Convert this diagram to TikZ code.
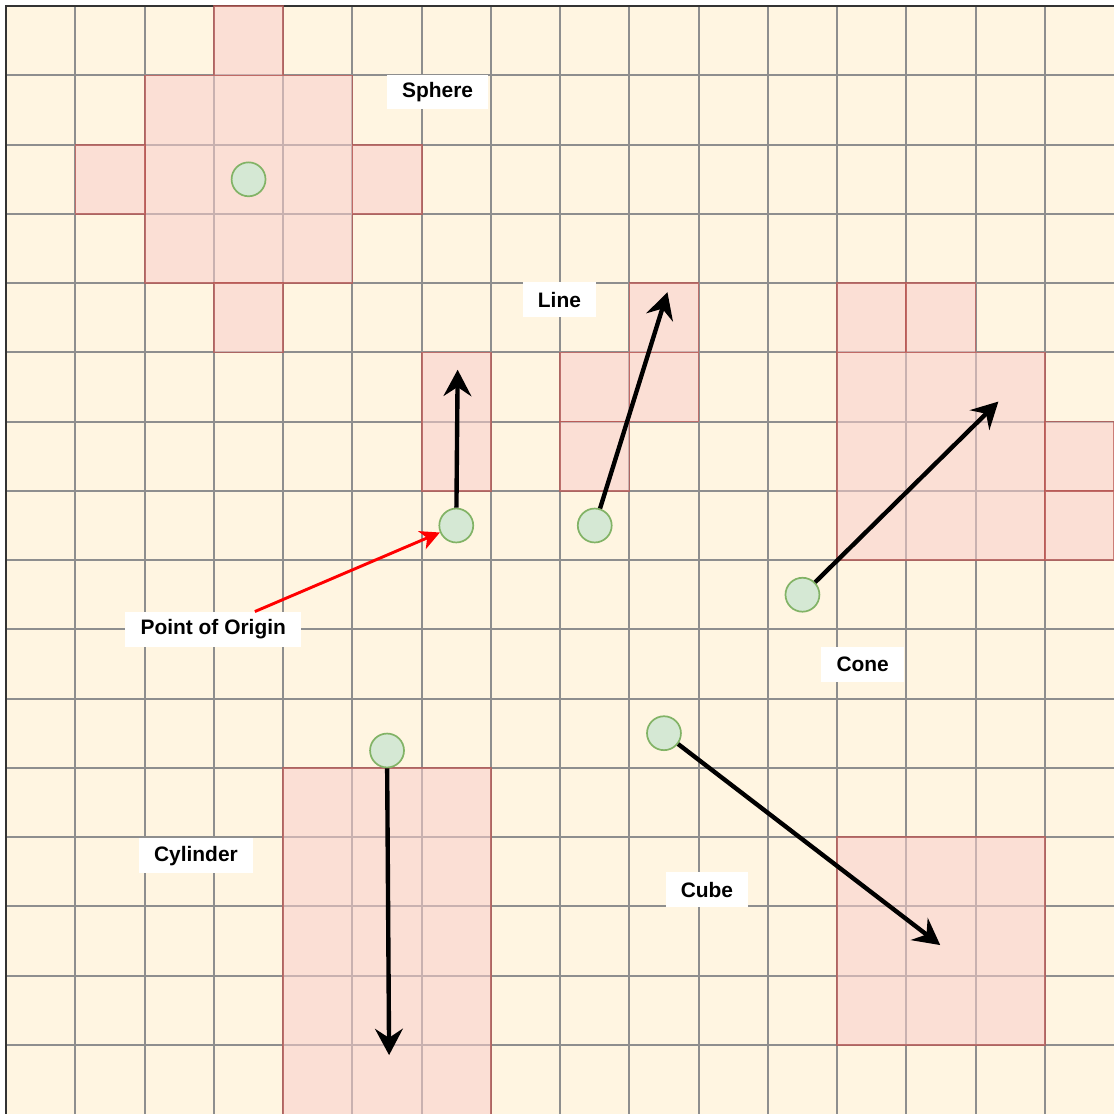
\documentclass[tikz,border=0pt]{standalone}
\usepackage{fontspec}
\setmainfont{Liberation Sans}
\usetikzlibrary{arrows.meta}
\definecolor{cream}{HTML}{FFF5E1}
\definecolor{gridgray}{HTML}{8E8E8E}
\definecolor{cellfill}{HTML}{F8CECC}
\definecolor{celldraw}{HTML}{B85450}
\definecolor{ptfill}{HTML}{D5E8D4}
\definecolor{ptdraw}{HTML}{82B366}
\begin{document}
\begin{tikzpicture}[
        cell/.style={fill=cellfill, fill opacity=0.55, draw=celldraw, draw opacity=0.7, line width=0.7pt},
        pt/.style={circle, draw=ptdraw, fill=ptfill, line width=0.7pt, minimum size=0.49cm, inner sep=0pt},
        lbl/.style={fill=white, font=\fontsize{8.6}{10}\selectfont\bfseries, minimum height=0.5cm, inner xsep=0.22cm, inner ysep=0pt},
        dir/.style={line width=1.8pt, -{Stealth[length=0.38cm, width=0.4cm, inset=0.13cm]}},
        hint/.style={red, line width=1.2pt, -{Stealth[length=0.28cm, width=0.28cm, inset=0.08cm]}}
    ]
        \useasboundingbox (-0.09,0.09) rectangle (16,-16);
        \fill[cream] (0,0) rectangle (16,-16);
        \foreach \i in {1,...,15} {
            \draw[gridgray, line width=0.8pt] (\i,0) -- (\i,-16);
            \draw[gridgray, line width=0.8pt] (0,-\i) -- (16,-\i);
        }
        \draw[black!80, line width=1pt] (0,-16) -- (0,0) -- (16,0);

        % sphere
        \draw[cell] (3,0) rectangle (4,-1);
        \draw[cell] (2,-1) rectangle (5,-4);
        \draw[cell] (1,-2) rectangle (2,-3);
        \draw[cell] (5,-2) rectangle (6,-3);
        \draw[cell] (3,-4) rectangle (4,-5);
        % origin
        \draw[cell] (6,-5) rectangle (7,-7);
        % line
        \draw[cell] (9,-4) rectangle (10,-5);
        \draw[cell] (8,-5) rectangle (9,-6);
        \draw[cell] (9,-5) rectangle (10,-6);
        \draw[cell] (8,-6) rectangle (9,-7);
        % cone
        \draw[cell] (12,-4) rectangle (13,-5);
        \draw[cell] (13,-4) rectangle (14,-5);
        \draw[cell] (12,-5) rectangle (15,-8);
        \draw[cell] (15,-6) rectangle (16,-7);
        \draw[cell] (15,-7) rectangle (16,-8);
        % cylinder, cube
        \draw[cell] (4,-11) rectangle (7,-16.2);
        \draw[cell] (12,-12) rectangle (15,-15);

        \node[pt] (psphere) at (3.5,-2.5) {};
        \node[pt] (porigin) at (6.5,-7.5) {};
        \node[pt] (pline) at (8.5,-7.5) {};
        \node[pt] (pcone) at (11.5,-8.5) {};
        \node[pt] (pcyl) at (5.5,-10.75) {};
        \node[pt] (pcube) at (9.5,-10.5) {};

        \coordinate (torigin) at (6.52,-5.25);
        \coordinate (tline) at (9.55,-4.13);
        \coordinate (tcone) at (14.33,-5.71);
        \coordinate (tcyl) at (5.53,-15.15);
        \coordinate (tcube) at (13.49,-13.56);

        \draw[dir] (porigin) -- (torigin);
        \draw[dir] (pline) -- (tline);
        \draw[dir] (pcone) -- (tcone);
        \draw[dir] (pcyl) -- (tcyl);
        \draw[dir] (pcube) -- (tcube);

        \node[lbl] (sphere) at (6.23,-1.24) {Sphere};
        \node[lbl] (line) at (7.99,-4.24) {Line};
        \node[lbl] (poo) at (2.99,-9.0) {Point of Origin};
        \node[lbl] (cone) at (12.37,-9.51) {Cone};
        \node[lbl] (cyl) at (2.74,-12.27) {Cylinder};
        \node[lbl] (cube) at (10.12,-12.76) {Cube};

        \draw[hint] (poo) -- (porigin);
    \end{tikzpicture}
\end{document}
